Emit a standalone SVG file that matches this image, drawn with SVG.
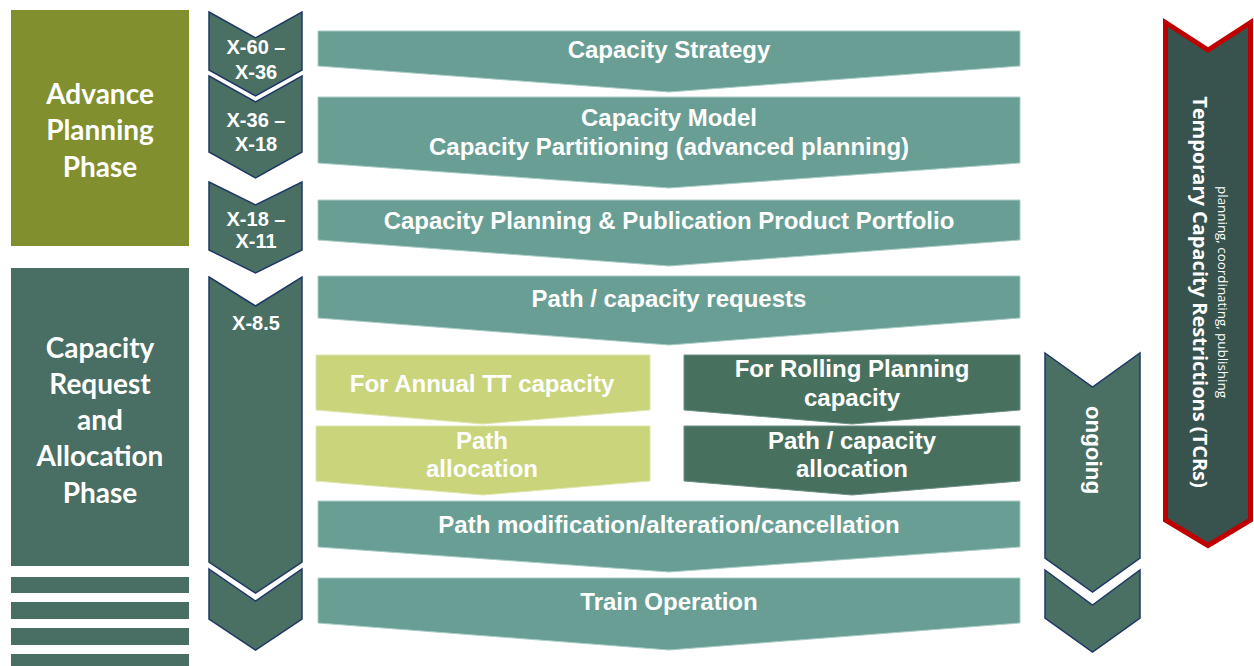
<svg xmlns="http://www.w3.org/2000/svg" width="1254" height="666" viewBox="0 0 1254 666">
<style>
.bg{fill:#ffffff}
.olive{fill:#818f2e}
.dkph{fill:#496e63}
.chev{fill:#4a7064;stroke:#203864;stroke-width:1.5}
.main{fill:#699e94;stroke:#a9ccc5;stroke-width:1}
.lg{fill:#c9d47b;stroke:#dfe6ad;stroke-width:1}
.dk{fill:#48705f;stroke:#6d8f86;stroke-width:1}
.tcr{fill:#38524d;stroke:#c00000;stroke-width:5}
.ph{font-family:Lato,"Open Sans",sans-serif;font-weight:700;font-size:28px;fill:#ffffff;text-anchor:middle;dominant-baseline:central}
.cl{font-family:"Liberation Sans",Arial,sans-serif;font-weight:700;font-size:20px;fill:#ffffff;text-anchor:middle;dominant-baseline:central}
.mt{font-family:"Liberation Sans",Arial,sans-serif;font-weight:700;font-size:24px;fill:#ffffff;text-anchor:middle;dominant-baseline:central}
.tb{font-family:"Open Sans",sans-serif;font-weight:700;font-size:20px;fill:#ffffff;text-anchor:middle;dominant-baseline:central}
.ts{font-family:"Open Sans",sans-serif;font-size:13.4px;fill:#ffffff;text-anchor:middle;dominant-baseline:central}
</style>
<rect class="bg" x="0" y="0" width="1254" height="666"/>

<g id="phase-advance">
<rect class="olive" x="11" y="10" width="178" height="236"/>
<text class="ph" x="100" y="93">Advance</text>
<text class="ph" x="100" y="129">Planning</text>
<text class="ph" x="100" y="166">Phase</text>
</g>
<g id="phase-request">
<rect class="dkph" x="11" y="268" width="178" height="298"/>
<text class="ph" x="100" y="347">Capacity</text>
<text class="ph" x="100" y="383">Request</text>
<text class="ph" x="100" y="419">and</text>
<text class="ph" x="100" y="455">Allocation</text>
<text class="ph" x="100" y="492">Phase</text>
</g>
<g id="phase-stripes">
<rect class="dkph" x="11" y="577" width="178" height="16"/>
<rect class="dkph" x="11" y="602" width="178" height="17"/>
<rect class="dkph" x="11" y="628" width="178" height="17"/>
<rect class="dkph" x="11" y="654" width="178" height="12"/>
</g>

<g id="chev-1">
<polygon class="chev" points="209,12 255.5,38 302,12 302,70 255.5,96 209,70"/>
<text class="cl" x="256" y="47">X-60 –</text>
<text class="cl" x="256" y="72">X-36</text>
</g>
<g id="chev-2">
<polygon class="chev" points="209,76 255.5,102 302,76 302,152 255.5,178 209,152"/>
<text class="cl" x="256" y="120">X-36 –</text>
<text class="cl" x="256" y="144">X-18</text>
</g>
<g id="chev-3">
<polygon class="chev" points="209,182 255.5,205 302,182 302,250 255.5,273 209,250"/>
<text class="cl" x="256" y="219">X-18 –</text>
<text class="cl" x="256" y="241">X-11</text>
</g>
<g id="chev-4">
<polygon class="chev" points="209,277 255.5,306 302,277 302,562 255.5,593 209,562"/>
<text class="cl" x="256" y="323">X-8.5</text>
</g>
<g id="chev-5">
<polygon class="chev" points="209,569 255.5,601 302,569 302,619 255.5,650 209,619"/>
</g>

<g id="capacity-strategy">
<polygon class="main" points="318,31 1020,31 1020,66 669,92 318,66"/>
<text class="mt" x="669" y="49">Capacity Strategy</text>
</g>
<g id="capacity-model">
<polygon class="main" points="318,97 1020,97 1020,163 669,188 318,163"/>
<text class="mt" x="669" y="117">Capacity Model</text>
<text class="mt" x="669" y="146">Capacity Partitioning (advanced planning)</text>
</g>
<g id="capacity-planning">
<polygon class="main" points="318,200 1020,200 1020,240 669,266 318,240"/>
<text class="mt" x="669" y="220">Capacity Planning &amp; Publication Product Portfolio</text>
</g>
<g id="path-requests">
<polygon class="main" points="318,276 1020,276 1020,318 669,345 318,318"/>
<text class="mt" x="669" y="298">Path / capacity requests</text>
</g>
<g id="annual-tt">
<polygon class="lg" points="316,355 650,355 650,410 483,424 316,410"/>
<text class="mt" x="482" y="383">For Annual TT capacity</text>
</g>
<g id="rolling-planning">
<polygon class="dk" points="684,355 1020,355 1020,410 852,424 684,410"/>
<text class="mt" x="852" y="368">For Rolling Planning</text>
<text class="mt" x="852" y="397">capacity</text>
</g>
<g id="path-allocation">
<polygon class="lg" points="316,426 650,426 650,481 483,495 316,481"/>
<text class="mt" x="482" y="440">Path</text>
<text class="mt" x="482" y="468">allocation</text>
</g>
<g id="capacity-allocation">
<polygon class="dk" points="684,426 1020,426 1020,481 852,495 684,481"/>
<text class="mt" x="852" y="440">Path / capacity</text>
<text class="mt" x="852" y="468">allocation</text>
</g>
<g id="path-modification">
<polygon class="main" points="318,501 1020,501 1020,547 669,572 318,547"/>
<text class="mt" x="669" y="524">Path modification/alteration/cancellation</text>
</g>
<g id="train-operation">
<polygon class="main" points="318,578 1020,578 1020,623 669,650 318,623"/>
<text class="mt" x="669" y="601">Train Operation</text>
</g>

<g id="ongoing">
<polygon class="chev" points="1045,353 1092.5,387 1140,353 1140,558 1092.5,592 1045,558"/>
<polygon class="chev" points="1045,570 1092.5,605 1140,570 1140,618 1092.5,652 1045,618"/>
<text class="cl" style="font-size:22.5px" transform="translate(1093,450) rotate(90)">ongoing</text>
</g>

<g id="tcr">
<polygon class="tcr" points="1165.5,22.5 1208,50 1250.5,22.5 1250.5,520 1208,545.5 1165.5,520"/>
<text class="ts" transform="translate(1223,292) rotate(90)">planning, coordinating, publishing</text>
<text class="tb" transform="translate(1200,292) rotate(90)">Temporary Capacity Restrictions (TCRs)</text>
</g>

<g id="connectors"></g>
</svg>
